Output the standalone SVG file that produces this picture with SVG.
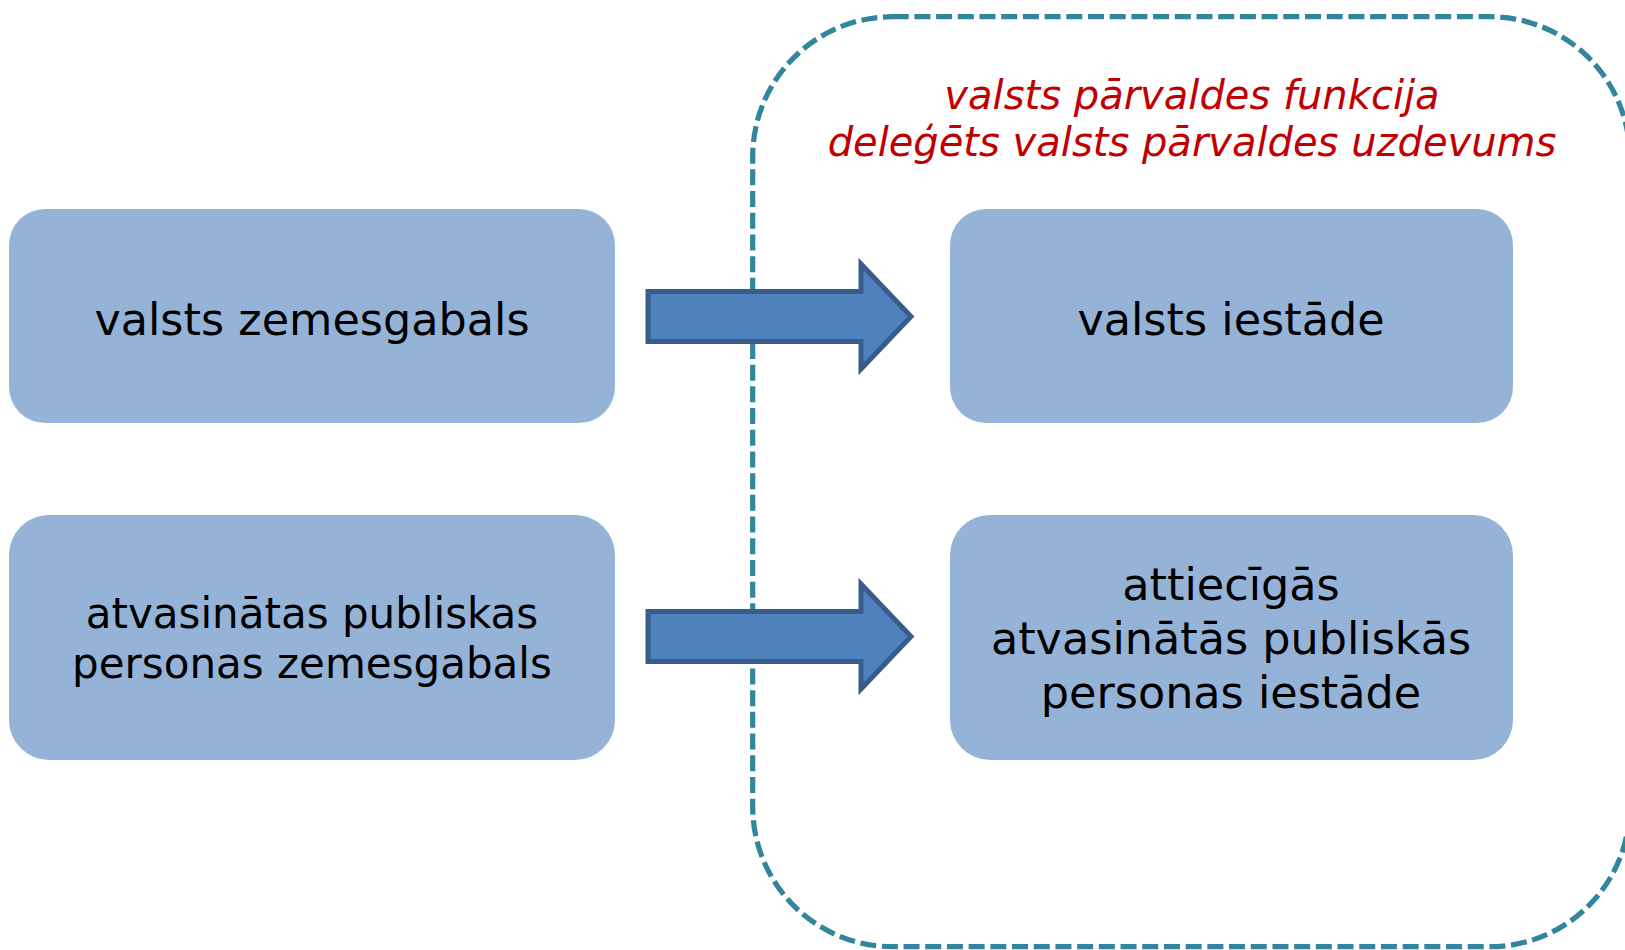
<svg xmlns="http://www.w3.org/2000/svg" width="1625" height="950" viewBox="0 0 1625 950">
  <style>
    .box { fill: #95B3D7; }
    .lbl { font-family: "DejaVu Sans", Verdana, sans-serif; fill: #000000; text-anchor: middle; }
    .red { font-family: "DejaVu Sans", Verdana, sans-serif; font-style: italic; fill: #C00000; text-anchor: middle; font-size: 40px; }
    .frame { fill: none; stroke: #31859C; stroke-width: 5.2; stroke-dasharray: 16 5.7; }
    .arrow { fill: #4F81BD; stroke: #385D8A; stroke-width: 5; stroke-linejoin: miter; }
  </style>
  <rect width="1625" height="950" fill="#FFFFFF"/>
  <g id="scope">
    <rect class="frame" x="752.7" y="16.7" width="877" height="930" rx="140" ry="140"/>
    <text class="red" x="1192" y="109">valsts pārvaldes funkcija</text>
    <text class="red" x="1192" y="156">deleģēts valsts pārvaldes uzdevums</text>
  </g>
  <g id="node-valsts-zemesgabals">
    <rect class="box" x="9" y="209" width="606" height="214" rx="36" ry="36"/>
    <text class="lbl" x="312" y="335" font-size="44.5">valsts zemesgabals</text>
  </g>
  <g id="node-app-zemesgabals">
    <rect class="box" x="9" y="515" width="606" height="245" rx="40" ry="40"/>
    <text class="lbl" x="312" y="628" font-size="42">atvasinātas publiskas</text>
    <text class="lbl" x="312" y="678" font-size="42">personas zemesgabals</text>
  </g>
  <g id="node-valsts-iestade">
    <rect class="box" x="950" y="209" width="563" height="214" rx="36" ry="36"/>
    <text class="lbl" x="1231" y="335" font-size="44.5">valsts iestāde</text>
  </g>
  <g id="node-app-iestade">
    <rect class="box" x="950" y="515" width="563" height="245" rx="40" ry="40"/>
    <text class="lbl" x="1231" y="600" font-size="44.5">attiecīgās</text>
    <text class="lbl" x="1231" y="654" font-size="44.5">atvasinātās publiskās</text>
    <text class="lbl" x="1231" y="708" font-size="44.5">personas iestāde</text>
  </g>
  <g id="connectors">
    <path class="arrow" d="M648,291.5 H861 V264 L911,316.5 L861,369 V341.5 H648 Z"/>
    <path class="arrow" d="M648,611.5 H861 V584 L911,636.5 L861,689 V661.5 H648 Z"/>
  </g>
</svg>
